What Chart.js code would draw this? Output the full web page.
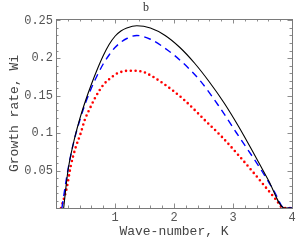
<!DOCTYPE html>
<html>
<head>
<meta charset="utf-8">
<script src="https://cdn.jsdelivr.net/npm/chart.js@4/dist/chart.umd.min.js"></script>
<style>
  html, body { margin: 0; padding: 0; background: #fff; }
  #wrap { width: 300px; height: 240px; }
</style>
</head>
<body>
<div id="wrap"><canvas id="c" width="300" height="240"></canvas></div>
<script>
// ---- data ----
const blackK = [0.13, 0.2, 0.3, 0.4, 0.5, 0.6, 0.7, 0.8, 0.9, 1.0, 1.1, 1.2, 1.37, 1.6, 1.85, 2.1, 2.35, 2.6, 2.85, 3.1, 3.35, 3.6, 3.87, 4.0];
const blackW = [0, 0.048, 0.088, 0.118, 0.143, 0.165, 0.185, 0.203, 0.218, 0.229, 0.236, 0.240, 0.243, 0.240, 0.230, 0.214, 0.193, 0.168, 0.140, 0.108, 0.073, 0.037, 0, 0];

const blueK = [0.1, 0.2, 0.3, 0.4, 0.5, 0.6, 0.7, 0.8, 0.9, 1.0, 1.1, 1.2, 1.37, 1.6, 1.9, 2.16, 2.44, 2.75, 3.06, 3.46, 3.7, 3.87, 4.0];
const blueW = [0, 0.050, 0.088, 0.116, 0.140, 0.160, 0.177, 0.192, 0.204, 0.214, 0.221, 0.226, 0.230, 0.225, 0.210, 0.193, 0.170, 0.137, 0.100, 0.053, 0.022, 0, 0];

const redK = [0.085, 0.18, 0.25, 0.33, 0.42, 0.49, 0.576, 0.65, 0.73, 0.81, 0.89, 0.97, 1.05, 1.13, 1.21, 1.29, 1.37, 1.45, 1.525, 1.8, 2.16, 2.55, 2.81, 3.12, 3.36, 3.73, 3.85, 4.0];
const redW = [0, 0.026, 0.056, 0.080, 0.100, 0.118, 0.133, 0.145, 0.156, 0.165, 0.171, 0.176, 0.180, 0.182, 0.183, 0.183, 0.183, 0.182, 0.180, 0.167, 0.145, 0.115, 0.095, 0.068, 0.046, 0.011, 0, 0];

const xTickLabels = [1, 2, 3, 4];
const yTickLabels = [0.05, 0.1, 0.15, 0.2, 0.25];

const titleText = 'b';
const xTitle = 'Wave-number, K';
const yTitle = 'Growth rate, Wi';

// ---- build chart ----
const toPts = (ks, ws) => ks.map((k, i) => ({ x: k, y: ws[i] }));

const framePlugin = {
  id: 'mmaFrame',
  beforeDatasetsDraw(chart) {
    const { ctx, chartArea: a, scales } = chart;
    const xs = scales.x, ys = scales.y;
    ctx.save();
    ctx.strokeStyle = '#8c8c8c';
    ctx.lineWidth = 1;
    ctx.beginPath();
    for (let i = 0; i <= 20; i++) {
      const v = i * 0.2;
      const major = i % 5 === 0;
      const len = major ? 4.5 : 2.5;
      const px = Math.round(xs.getPixelForValue(v)) + 0.5;
      ctx.moveTo(px, a.bottom); ctx.lineTo(px, a.bottom - len);
      ctx.moveTo(px, a.top); ctx.lineTo(px, a.top + len);
    }
    for (let i = 0; i <= 25; i++) {
      const v = i * 0.01;
      const major = i % 5 === 0;
      const len = major ? 4.5 : 2.5;
      const py = Math.round(ys.getPixelForValue(v)) + 0.5;
      ctx.moveTo(a.left, py); ctx.lineTo(a.left + len, py);
      ctx.moveTo(a.right, py); ctx.lineTo(a.right - len, py);
    }
    ctx.stroke();
    ctx.strokeStyle = '#7a7a7a';
    ctx.strokeRect(Math.round(a.left) + 0.5, Math.round(a.top) + 0.5,
                   Math.round(a.right - a.left), Math.round(a.bottom - a.top));
    ctx.restore();
  }
};

new Chart(document.getElementById('c'), {
  type: 'line',
  data: {
    datasets: [
      {
        data: toPts(blackK, blackW),
        borderColor: '#000000',
        borderWidth: 1.1,
        pointRadius: 0,
        cubicInterpolationMode: 'monotone',
        fill: false
      },
      {
        data: toPts(blueK, blueW),
        borderColor: '#0000ff',
        borderWidth: 1.4,
        borderDash: [7, 5],
        pointRadius: 0,
        cubicInterpolationMode: 'monotone',
        fill: false
      },
      {
        data: toPts(redK, redW),
        borderColor: '#ff0000',
        borderWidth: 2.6,
        borderDash: [0, 4.8],
        borderCapStyle: 'round',
        pointRadius: 0,
        cubicInterpolationMode: 'monotone',
        fill: false
      }
    ]
  },
  options: {
    responsive: false,
    animation: false,
    devicePixelRatio: 1,
    layout: { padding: { left: 0, right: 8, top: 0, bottom: 0 } },
    plugins: {
      legend: { display: false },
      tooltip: { enabled: false },
      title: {
        display: true,
        text: titleText,
        color: '#333333',
        font: { family: '"Liberation Serif", serif', size: 12, weight: 'normal' },
        padding: { top: 1, bottom: 3.6 }
      }
    },
    scales: {
      x: {
        type: 'linear',
        min: 0,
        max: 4,
        grid: { display: false, drawTicks: false },
        border: { display: false },
        afterBuildTicks: s => { s.ticks = xTickLabels.map(v => ({ value: v })); },
        afterFit: s => { s.height = 32; },
        ticks: {
          color: '#555555',
          padding: 3,
          maxRotation: 0,
          autoSkip: false,
          font: { family: '"Liberation Mono", monospace', size: 12 },
          callback: v => String(v)
        },
        title: {
          display: true,
          text: xTitle,
          color: '#444444',
          font: { family: '"Liberation Mono", monospace', size: 13 },
          padding: { top: 0, bottom: 1 }
        }
      },
      y: {
        type: 'linear',
        min: 0,
        max: 0.252,
        grid: { display: false, drawTicks: false },
        border: { display: false },
        afterBuildTicks: s => { s.ticks = yTickLabels.map(v => ({ value: v })); },
        afterFit: s => { s.width = 56; },
        ticks: {
          color: '#555555',
          padding: 3,
          autoSkip: false,
          font: { family: '"Liberation Mono", monospace', size: 12 },
          callback: v => String(v)
        },
        title: {
          display: true,
          text: yTitle,
          color: '#444444',
          font: { family: '"Liberation Mono", monospace', size: 13 },
          padding: { top: 7, bottom: 0 }
        }
      }
    }
  },
  plugins: [framePlugin]
});
</script>
</body>
</html>
